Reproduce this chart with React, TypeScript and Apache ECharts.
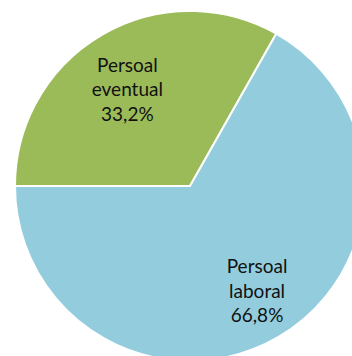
import React, { useEffect, useRef } from "react";
import * as echarts from "echarts";

const categories = ["Persoal\neventual", "Persoal\nlaboral"];
const values = [33.2, 66.8];
const colors = ["#9BBB59", "#93CDDD"];

export default function App() {
  const ref = useRef<HTMLDivElement>(null);
  useEffect(() => {
    document.body.style.margin = "0";
    const chart = echarts.init(ref.current!, null, { renderer: "svg" });
    const cx = 190;
    const cy = 186;
    const labelScale = [1.28, 1.37];
    const rot = (2.5 * Math.PI) / 180;
    chart.setOption({
      animation: false,
      series: [
        {
          type: "pie",
          center: [cx, cy],
          radius: 175,
          startAngle: 180,
          clockwise: true,
          silent: true,
          data: categories.map((c, i) => ({
            name: c,
            value: values[i],
            itemStyle: { color: colors[i] },
          })),
          itemStyle: { borderColor: "#ffffff", borderWidth: 2 },
          label: {
            show: true,
            position: "inside",
            formatter: (p: any) =>
              p.name + "\n" + p.value.toFixed(1).replace(".", ",") + "%",
            color: "#111111",
            fontFamily: "Lato",
            fontSize: 19,
            lineHeight: 24.5,
            align: "center",
          },
          labelLine: { show: false },
          labelLayout: (params: any) => {
            const k = labelScale[params.dataIndex] ?? 1.37;
            const r = params.labelRect;
            const mx = (r.x + r.width / 2 - cx) * k;
            const my = -(r.y + r.height / 2 - cy) * k;
            const mx2 = mx * Math.cos(rot) - my * Math.sin(rot);
            const my2 = mx * Math.sin(rot) + my * Math.cos(rot);
            return { x: cx + mx2, y: cy - my2 };
          },
        },
      ],
    });
    return () => chart.dispose();
  }, []);
  return <div ref={ref} style={{ width: 352, height: 356 }} />;
}
